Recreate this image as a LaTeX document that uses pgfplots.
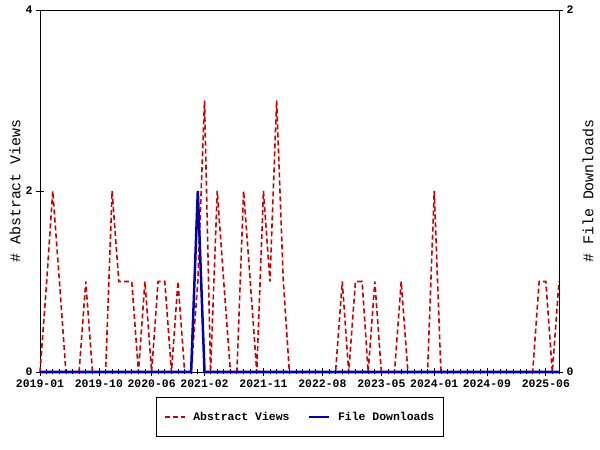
\documentclass[border=0pt]{standalone}
\usepackage{pgfplots}
\pgfplotsset{compat=1.18}
\usepackage{pgfplotstable}
\usepackage{fontspec}
\setmainfont{Liberation Mono}
\definecolor{viewred}{RGB}{204,0,0}
\definecolor{dlblue}{RGB}{0,0,180}

% x = days since 2019-01-01 (first day of each month)
\pgfplotstableread{
day views
0 0
31 1
59 2
90 1
120 0
151 0
181 0
212 1
243 0
273 0
304 0
334 2
365 1
396 1
425 1
456 0
486 1
517 0
547 1
578 1
609 0
639 1
670 0
700 0
731 1
762 3
790 0
821 2
851 1
882 0
912 0
943 2
974 1
1004 0
1035 2
1065 1
1096 3
1127 1
1155 0
1186 0
1216 0
1247 0
1277 0
1308 0
1339 0
1369 0
1400 1
1430 0
1461 1
1492 1
1520 0
1551 1
1581 0
1612 0
1642 0
1673 1
1704 0
1734 0
1765 0
1795 0
1826 2
1857 0
1886 0
1917 0
1947 0
1978 0
2008 0
2039 0
2070 0
2100 0
2131 0
2161 0
2192 0
2223 0
2251 0
2282 0
2312 1
2343 1
2373 0
2404 1
}\viewsdata

\pgfplotstableread{
day dl
0 0
31 0
59 0
90 0
120 0
151 0
181 0
212 0
243 0
273 0
304 0
334 0
365 0
396 0
425 0
456 0
486 0
517 0
547 0
578 0
609 0
639 0
670 0
700 0
731 1
762 0
790 0
821 0
851 0
882 0
912 0
943 0
974 0
1004 0
1035 0
1065 0
1096 0
1127 0
1155 0
1186 0
1216 0
1247 0
1277 0
1308 0
1339 0
1369 0
1400 0
1430 0
1461 0
1492 0
1520 0
1551 0
1581 0
1612 0
1642 0
1673 0
1704 0
1734 0
1765 0
1795 0
1826 0
1857 0
1886 0
1917 0
1947 0
1978 0
2008 0
2039 0
2070 0
2100 0
2131 0
2161 0
2192 0
2223 0
2251 0
2282 0
2312 0
2343 0
2373 0
2404 0
}\dldata

\begin{document}
\begin{tikzpicture}
\path[use as bounding box] (0,0) rectangle (600bp,450bp);
\pgfplotsset{
  common/.style={
    at={(40bp,78bp)}, anchor=south west,
    scale only axis, width=519bp, height=362bp,
    xmin=0, xmax=2404, clip=false,
    tick align=center, major tick length=8bp, minor tick length=5bp,
    every tick/.style={black, line width=0.8bp},
    axis line style={line width=0.8bp},
    tick label style={font=\bfseries\fontsize{11.5}{13}\selectfont},
    label style={font=\fontsize{15}{18}\selectfont},
    /pgf/number format/assume math mode=true,
  }
}
\begin{axis}[common,
  ymin=0, ymax=4, ytick={0,2,4},
  xtick pos=bottom, ytick pos=left,
  xtick={0,273,517,762,1035,1308,1581,1826,2070,2343},
  xticklabels={2019-01,2019-10,2020-06,2021-02,2021-11,2022-08,2023-05,2024-01,2024-09,2025-06},
  minor xtick={31,59,90,120,151,181,212,243,304,334,365,396,425,456,486,547,578,609,639,670,700,731,790,821,851,882,912,943,974,1004,1065,1096,1127,1155,1186,1216,1247,1277,1339,1369,1400,1430,1461,1492,1520,1551,1612,1642,1673,1704,1734,1765,1795,1857,1886,1917,1947,1978,2008,2039,2100,2131,2161,2192,2223,2251,2282,2312,2373,2404},
  ylabel={\# Abstract Views},
  ylabel style={at={(axis description cs:-0.048,0.5)}, anchor=center},
]
\addplot[viewred, line width=1.6bp, dash pattern=on 5bp off 3bp] table[x=day, y=views] {\viewsdata};
\end{axis}
\begin{axis}[common,
  axis x line=none, axis y line*=right,
  ymin=0, ymax=2, ytick={0,2}, ytick pos=right,
  ylabel={\# File Downloads},
  ylabel style={at={(axis description cs:1.056,0.5)}, anchor=center, rotate=0},
  legend columns=2,
  legend style={at={(axis description cs:0.501,-0.124)}, anchor=center,
    draw=black, line width=0.8bp, inner xsep=7bp, inner ysep=13bp,
    font=\bfseries\fontsize{11.5}{13}\selectfont,
    /tikz/every odd column/.append style={column sep=6bp},
    /tikz/every even column/.append style={column sep=16bp}},
  legend image code/.code={\draw[#1] (0bp,0bp) -- (20bp,0bp);},
]
\addlegendimage{viewred, line width=1.6bp, dash pattern=on 5bp off 3bp}
\addlegendentry{Abstract Views}
\addplot[dlblue, line width=2.5bp] table[x=day, y=dl] {\dldata};
\addlegendentry{File Downloads}
\end{axis}
\end{tikzpicture}
\end{document}
